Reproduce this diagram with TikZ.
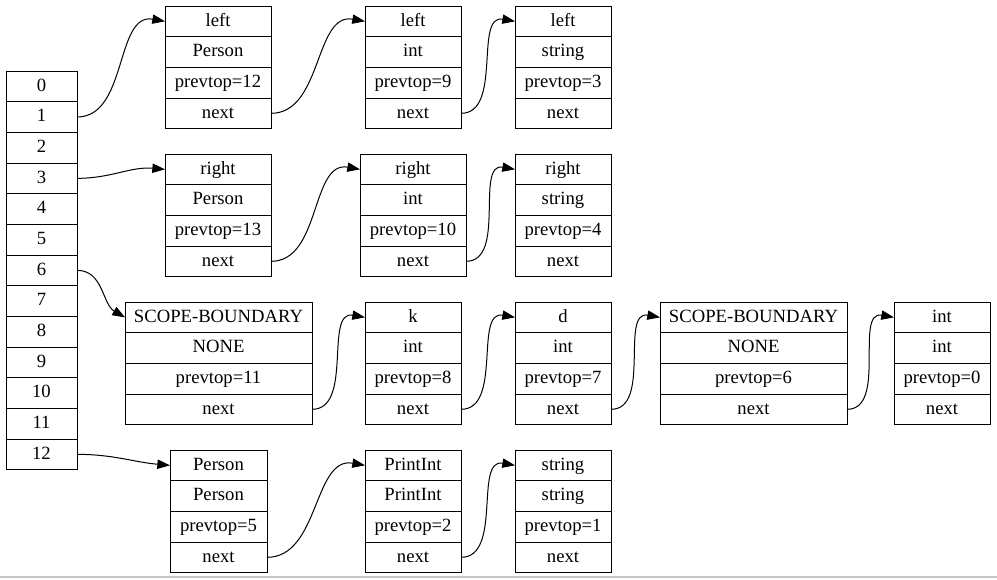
\documentclass[tikz,border=0pt]{standalone}
\usepackage{fontspec}
\setmainfont{Liberation Serif}
\usepackage{tikz}
\usetikzlibrary{arrows.meta, positioning}
\tikzset{>={Triangle[length=9.5pt,width=7pt]}}
\tikzset{
  cell/.style={draw, line width=0.75pt, minimum height=23pt, inner sep=0pt, outer sep=0pt,
    text height=10pt, text depth=3pt, font=\fontsize{14}{16}\selectfont},
  link/.style={->, line width=0.75pt}
}

\begin{document}
\begin{tikzpicture}[x=0.75pt, y=-0.75pt]
            \useasboundingbox (0,0) rectangle (997,579);
            % the stack of slots
            \node[cell, minimum width=53.25pt, anchor=north west] (s0) at (6,71) {0};
            \foreach \i [remember=\i as \j (initially 0)] in {1,...,12}
              \node[cell, minimum width=53.25pt, below=0pt of s\j] (s\i) {\i};
            % the records: name/x/y/width/first/second/prevtop
            \foreach \nm/\x/\y/\w/\ta/\tb/\tc in {
                a1/165/6/79.5pt/left/Person/12, a2/365/6/72pt/left/int/9, a3/515/6/72pt/left/string/3,
                b1/165/154/79.5pt/right/Person/13, b2/360/154/79.5pt/right/int/10, b3/515/154/72pt/right/string/4,
                c1/125/302/140.25pt/SCOPE-BOUNDARY/NONE/11, c2/365/302/72pt/k/int/8, c3/515/302/72pt/d/int/7,
                c4/660/302/140.25pt/SCOPE-BOUNDARY/NONE/6, c5/894/302/72pt/int/int/0,
                d1/170/450/72.75pt/Person/Person/5, d2/365/450/72pt/PrintInt/PrintInt/2, d3/515/450/72pt/string/string/1}
            {
              \node[cell, minimum width=\w, anchor=north west] (\nm-1) at (\x,\y) {\ta};
              \node[cell, minimum width=\w, below=0pt of \nm-1] (\nm-2) {\tb};
              \node[cell, minimum width=\w, below=0pt of \nm-2] (\nm-3) {prevtop=\tc};
              \node[cell, minimum width=\w, below=0pt of \nm-3] (\nm-4) {next};
            }
            % links
            \draw[link] (s1.east) to[out=0, in=170] (a1-1.west);
            \draw[link] (a1-4.east) to[out=0, in=170] (a2-1.west);
            \draw[link] (a2-4.east) to[out=0, in=170] (a3-1.west);
            \draw[link] (s3.east) to[out=0, in=175] (b1-1.west);
            \draw[link] (b1-4.east) to[out=0, in=170] (b2-1.west);
            \draw[link] (b2-4.east) to[out=0, in=170] (b3-1.west);
            \draw[link] (s6.east) to[out=0, in=150] (c1-1.west);
            \draw[link] (c1-4.east) to[out=0, in=170] (c2-1.west);
            \draw[link] (c2-4.east) to[out=0, in=170] (c3-1.west);
            \draw[link] (c3-4.east) to[out=0, in=170] (c4-1.west);
            \draw[link] (c4-4.east) to[out=0, in=170] (c5-1.west);
            \draw[link] (s12.east) to[out=0, in=175] (d1-1.west);
            \draw[link] (d1-4.east) to[out=0, in=170] (d2-1.west);
            \draw[link] (d2-4.east) to[out=0, in=170] (d3-1.west);
            \draw[gray!45, line width=1.5pt] (0,577) -- (997,577);
\end{tikzpicture}
\end{document}
